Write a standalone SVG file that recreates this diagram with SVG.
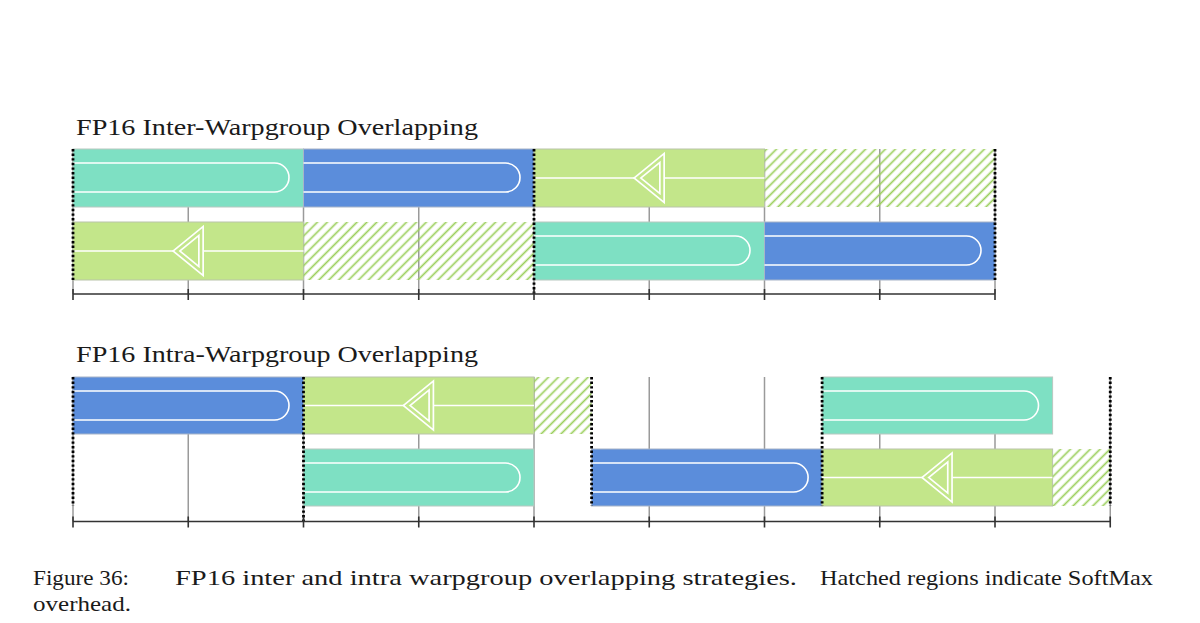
<svg xmlns="http://www.w3.org/2000/svg" width="1200" height="623" viewBox="0 0 1200 623">
<style>
.bg{fill:#ffffff}
.teal{fill:#7EE0C3;stroke:#b8c8c0;stroke-width:1}
.blue{fill:#5B8DDB;stroke:#a8b4c8;stroke-width:1}
.green{fill:#C3E68A;stroke:#b9c4aa;stroke-width:1}
.hatch{fill:url(#hatch);stroke:none}
.track{fill:none;stroke:#ffffff;stroke-width:1.6}
.tri{fill:#C3E68A;stroke:#ffffff;stroke-width:6;stroke-linejoin:miter}
.triin{fill:none;stroke:#C3E68A;stroke-width:2.6;stroke-linejoin:miter}
.grid{stroke:#9a9a9a;stroke-width:1.5}
.dot{stroke:#000000;stroke-width:2.8;stroke-dasharray:2.4 2.2}
.axis{stroke:#333333;stroke-width:1.6;fill:none}
.title{font-family:"Liberation Serif","DejaVu Serif",serif;font-size:23px;fill:#1a1a1a}
.cap{font-family:"Liberation Serif","DejaVu Serif",serif;font-size:22px;fill:#1a1a1a}
</style>
<defs>
<pattern id="hatch" patternUnits="userSpaceOnUse" width="7" height="7" patternTransform="rotate(45)">
<line x1="3.5" y1="0" x2="3.5" y2="7" stroke="#9BCF5C" stroke-width="1.7"/>
</pattern>
</defs>
<rect class="bg" x="0" y="0" width="1200" height="623"/>

<text class="title" x="76" y="135" textLength="402" lengthAdjust="spacingAndGlyphs">FP16 Inter-Warpgroup Overlapping</text>
<text class="title" x="76" y="362" textLength="402" lengthAdjust="spacingAndGlyphs">FP16 Intra-Warpgroup Overlapping</text>

<g id="grid">
<line class="grid" x1="73" y1="149" x2="73" y2="294"/>
<line class="grid" x1="188.25" y1="149" x2="188.25" y2="294"/>
<line class="grid" x1="303.5" y1="149" x2="303.5" y2="294"/>
<line class="grid" x1="418.75" y1="149" x2="418.75" y2="294"/>
<line class="grid" x1="534" y1="149" x2="534" y2="294"/>
<line class="grid" x1="649.25" y1="149" x2="649.25" y2="294"/>
<line class="grid" x1="764.5" y1="149" x2="764.5" y2="294"/>
<line class="grid" x1="879.75" y1="149" x2="879.75" y2="294"/>
<line class="grid" x1="995" y1="149" x2="995" y2="294"/>

<line class="grid" x1="73" y1="377" x2="73" y2="521.5"/>
<line class="grid" x1="188.25" y1="377" x2="188.25" y2="521.5"/>
<line class="grid" x1="303.5" y1="377" x2="303.5" y2="521.5"/>
<line class="grid" x1="418.75" y1="377" x2="418.75" y2="521.5"/>
<line class="grid" x1="534" y1="377" x2="534" y2="521.5"/>
<line class="grid" x1="649.25" y1="377" x2="649.25" y2="521.5"/>
<line class="grid" x1="764.5" y1="377" x2="764.5" y2="521.5"/>
<line class="grid" x1="879.75" y1="377" x2="879.75" y2="521.5"/>
<line class="grid" x1="995" y1="377" x2="995" y2="521.5"/>
<line class="grid" x1="1110.25" y1="377" x2="1110.25" y2="521.5"/>
</g>

<!-- Top section -->
<g id="inter-r1-teal">
<rect class="teal" x="73" y="149" width="230.5" height="58"/>
<path class="track" d="M73 163 H274.5 A14.5 14.5 0 0 1 274.5 192 H73"/>
</g>
<g id="inter-r1-blue">
<rect class="blue" x="303.5" y="149" width="230.5" height="58"/>
<path class="track" d="M303.5 163 H505.5 A14.5 14.5 0 0 1 505.5 192 H303.5"/>
</g>
<g id="inter-r1-green">
<rect class="green" x="534" y="149" width="230.5" height="58"/>
<line class="track" x1="534" y1="178" x2="764.5" y2="178"/>
<polygon class="tri" points="637.5,178 662,158 662,198"/>
<polygon class="triin" points="637.5,178 662,158 662,198"/>
</g>
<g id="inter-r1-hatch">
<rect class="hatch" x="764.5" y="149" width="230.5" height="58"/>
</g>
<g id="inter-r2-green">
<rect class="green" x="73" y="222" width="230.5" height="58"/>
<line class="track" x1="73" y1="251" x2="303.5" y2="251"/>
<polygon class="tri" points="176.5,251 201,231 201,271"/>
<polygon class="triin" points="176.5,251 201,231 201,271"/>
</g>
<g id="inter-r2-hatch">
<rect class="hatch" x="303.5" y="222" width="230.5" height="58"/>
</g>
<g id="inter-r2-teal">
<rect class="teal" x="534" y="222" width="230.5" height="58"/>
<path class="track" d="M534 236 H735.5 A14.5 14.5 0 0 1 735.5 265 H534"/>
</g>
<g id="inter-r2-blue">
<rect class="blue" x="764.5" y="222" width="230.5" height="58"/>
<path class="track" d="M764.5 236 H966.5 A14.5 14.5 0 0 1 966.5 265 H764.5"/>
</g>

<!-- Bottom section -->
<g id="intra-r1-blue">
<rect class="blue" x="73" y="377" width="230.5" height="57"/>
<path class="track" d="M73 391 H274.5 A14.5 14.5 0 0 1 274.5 420 H73"/>
</g>
<g id="intra-r1-green">
<rect class="green" x="303.5" y="377" width="230.5" height="57"/>
<line class="track" x1="303.5" y1="405.5" x2="534" y2="405.5"/>
<polygon class="tri" points="406.75,405.5 431.25,385.5 431.25,425.5"/>
<polygon class="triin" points="406.75,405.5 431.25,385.5 431.25,425.5"/>
</g>
<g id="intra-r1-hatch">
<rect class="hatch" x="534" y="377" width="57.6" height="57"/>
</g>
<g id="intra-r1-teal">
<rect class="teal" x="822.1" y="377" width="230.5" height="57"/>
<path class="track" d="M822.1 391 H1024 A14.5 14.5 0 0 1 1024 420 H822.1"/>
</g>
<g id="intra-r2-teal">
<rect class="teal" x="303.5" y="449" width="230.5" height="57"/>
<path class="track" d="M303.5 463 H505.5 A14.5 14.5 0 0 1 505.5 492 H303.5"/>
</g>
<g id="intra-r2-blue">
<rect class="blue" x="591.6" y="449" width="230.5" height="57"/>
<path class="track" d="M591.6 463 H793.6 A14.5 14.5 0 0 1 793.6 492 H591.6"/>
</g>
<g id="intra-r2-green">
<rect class="green" x="822.1" y="449" width="230.5" height="57"/>
<line class="track" x1="822.1" y1="477.5" x2="1052.6" y2="477.5"/>
<polygon class="tri" points="925.4,477.5 949.9,457.5 949.9,497.5"/>
<polygon class="triin" points="925.4,477.5 949.9,457.5 949.9,497.5"/>
</g>
<g id="intra-r2-hatch">
<rect class="hatch" x="1052.6" y="449" width="57.65" height="57"/>
</g>

<g id="dotted">
<line class="dot" x1="73" y1="149" x2="73" y2="280"/>
<line class="dot" x1="534" y1="149" x2="534" y2="294"/>
<line class="dot" x1="995" y1="149" x2="995" y2="280"/>
<line class="dot" x1="73" y1="377" x2="73" y2="506"/>
<line class="dot" x1="303.5" y1="377" x2="303.5" y2="521"/>
<line class="dot" x1="591.6" y1="377" x2="591.6" y2="506"/>
<line class="dot" x1="822.1" y1="377" x2="822.1" y2="506"/>
<line class="dot" x1="1110.25" y1="377" x2="1110.25" y2="506"/>
</g>

<g id="axes">
<line class="axis" x1="73" y1="294" x2="995" y2="294"/>
<path class="axis" d="M73 289V300 M188.25 289V300 M303.5 289V300 M418.75 289V300 M534 289V300 M649.25 289V300 M764.5 289V300 M879.75 289V300 M995 289V300"/>
<line class="axis" x1="73" y1="521.5" x2="1110.25" y2="521.5"/>
<path class="axis" d="M73 516.5V527.5 M188.25 516.5V527.5 M303.5 516.5V527.5 M418.75 516.5V527.5 M534 516.5V527.5 M649.25 516.5V527.5 M764.5 516.5V527.5 M879.75 516.5V527.5 M995 516.5V527.5 M1110.25 516.5V527.5"/>
</g>

<g id="caption">
<text class="cap" x="33" y="585" textLength="96" lengthAdjust="spacingAndGlyphs">Figure 36:</text>
<text class="cap" x="175" y="585" textLength="622" lengthAdjust="spacingAndGlyphs">FP16 inter and intra warpgroup overlapping strategies.</text>
<text class="cap" x="820" y="585" textLength="333" lengthAdjust="spacingAndGlyphs">Hatched regions indicate SoftMax</text>
<text class="cap" x="33" y="611" textLength="98" lengthAdjust="spacingAndGlyphs">overhead.</text>
</g>
</svg>
